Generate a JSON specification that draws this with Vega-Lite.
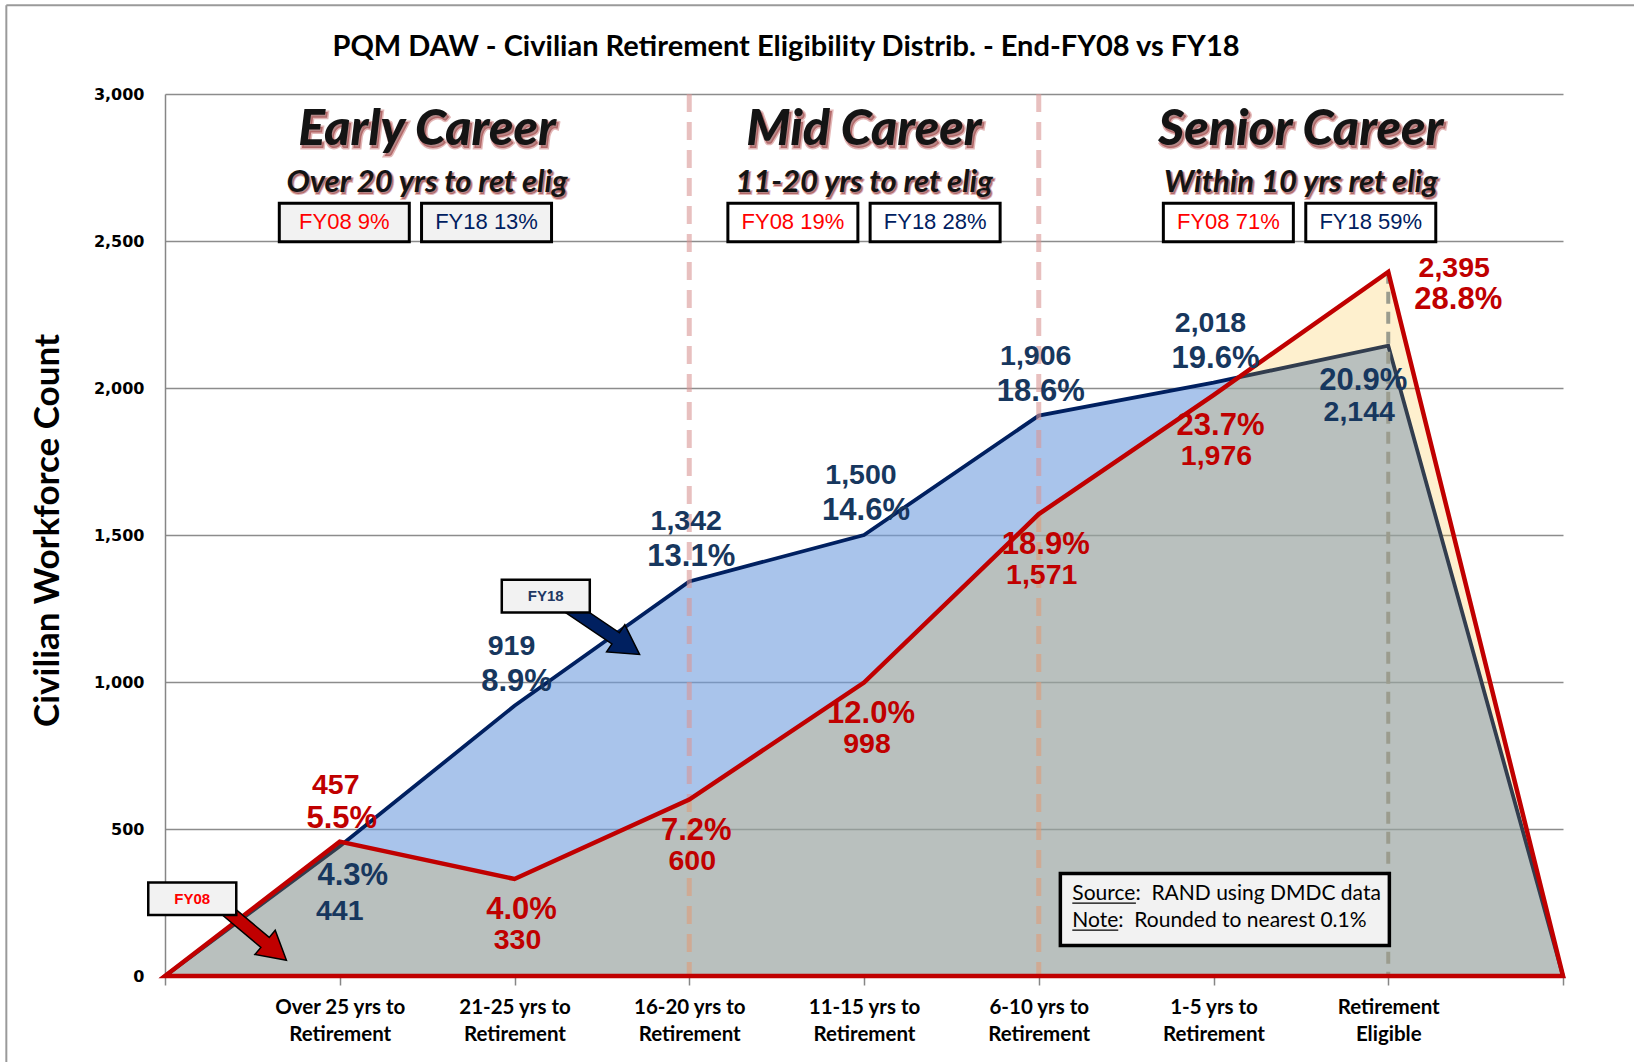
{
  "$schema": "https://vega.github.io/schema/vega-lite/v6.json",
  "width": 1398,
  "height": 882,
  "autosize": {"type": "none"},
  "padding": {"left": 165, "top": 94, "right": 71, "bottom": 86},
  "background": "white",
  "config": {"view": {"stroke": null}, "font": "Lato"},
  "title": {
    "text": "PQM DAW - Civilian Retirement Eligibility Distrib. - End-FY08 vs FY18",
    "font": "Lato", "fontSize": 29, "fontWeight": "bold", "color": "black",
    "anchor": "middle", "dx": -78, "offset": 0, "dy": 58
  },
  "datasets": {
    "series": [
      {"pos": 0, "category": "", "FY08": 0, "FY18": 0},
      {"pos": 1, "category": "Over 25 yrs to Retirement", "FY08": 457, "FY18": 441, "p08": 0.055, "p18": 0.043},
      {"pos": 2, "category": "21-25 yrs to Retirement", "FY08": 330, "FY18": 919, "p08": 0.040, "p18": 0.089},
      {"pos": 3, "category": "16-20 yrs to Retirement", "FY08": 600, "FY18": 1342, "p08": 0.072, "p18": 0.131},
      {"pos": 4, "category": "11-15 yrs to Retirement", "FY08": 998, "FY18": 1500, "p08": 0.120, "p18": 0.146},
      {"pos": 5, "category": "6-10 yrs to Retirement", "FY08": 1571, "FY18": 1906, "p08": 0.189, "p18": 0.186},
      {"pos": 6, "category": "1-5 yrs to Retirement", "FY08": 1976, "FY18": 2018, "p08": 0.237, "p18": 0.196},
      {"pos": 7, "category": "Retirement Eligible", "FY08": 2395, "FY18": 2144, "p08": 0.288, "p18": 0.209},
      {"pos": 8, "category": "", "FY08": 0, "FY18": 0}
    ],
    "eras": [{"pos": 3}, {"pos": 5}],
    "headings": [
      {"pos": 1.5, "head": "Early Career", "sub": "Over 20 yrs to ret elig"},
      {"pos": 4.0, "head": "Mid Career", "sub": "11-20 yrs to ret elig"},
      {"pos": 6.5, "head": "Senior Career", "sub": "Within 10 yrs ret elig"}
    ],
    "shares": [
      {"era": "Early", "series": "FY08", "label": "FY08 9%", "pos": 1.026},
      {"era": "Early", "series": "FY18", "label": "FY18 13%", "pos": 1.840},
      {"era": "Mid", "series": "FY08", "label": "FY08 19%", "pos": 3.593},
      {"era": "Mid", "series": "FY18", "label": "FY18 28%", "pos": 4.407},
      {"era": "Senior", "series": "FY08", "label": "FY08 71%", "pos": 6.085},
      {"era": "Senior", "series": "FY18", "label": "FY18 59%", "pos": 6.900}
    ],
    "callouts": [
      {"series": "FY18", "pos": 2.179, "y": 1292},
      {"series": "FY08", "pos": 0.156, "y": 263}
    ]
  },
  "layer": [
    {
      "data": {"values": [{}]},
      "mark": {"type": "rule", "stroke": "#9a9a9a", "strokeWidth": 2},
      "encoding": {"x": {"datum": -0.908, "type": "quantitative"}, "x2": {"datum": 8.5}, "y": {"datum": 3302, "type": "quantitative"}}
    },
    {
      "data": {"values": [{}]},
      "mark": {"type": "rule", "stroke": "#9a9a9a", "strokeWidth": 2},
      "encoding": {"x": {"datum": -0.908, "type": "quantitative"}, "y": {"datum": -300, "type": "quantitative"}, "y2": {"datum": 3302}}
    },
    {
      "data": {"name": "series"},
      "mark": {"type": "area", "fill": "#709CDE", "fillOpacity": 0.6, "stroke": "#002060", "strokeWidth": 3.8},
      "encoding": {
        "x": {
          "field": "pos", "type": "quantitative",
          "scale": {"domain": [0, 8], "nice": false, "zero": false},
          "axis": {
            "values": [0, 1, 2, 3, 4, 5, 6, 7, 8],
            "labelExpr": "[[''],['Over 25 yrs to','Retirement'],['21-25 yrs to','Retirement'],['16-20 yrs to','Retirement'],['11-15 yrs to','Retirement'],['6-10 yrs to','Retirement'],['1-5 yrs to','Retirement'],['Retirement','Eligible'],['']][datum.value]",
            "labelFont": "Lato", "labelFontWeight": "bold", "labelFontSize": 20.5, "labelColor": "black",
            "labelLineHeight": 27, "labelBaseline": "top", "labelPadding": 12, "labelOverlap": false, "labelBound": false, "labelFlush": false,
            "tickSize": 9, "tickColor": "#868686", "tickWidth": 1.5, "domainColor": "#868686", "domainWidth": 1.5,
            "grid": false, "title": null
          }
        },
        "y": {
          "field": "FY18", "type": "quantitative",
          "scale": {"domain": [0, 3000], "nice": false},
          "axis": {
            "values": [0, 500, 1000, 1500, 2000, 2500, 3000],
            "labelExpr": "format(datum.value, ',')",
            "labelFont": "DejaVu Sans", "labelFontWeight": "bold", "labelFontSize": 16, "labelColor": "black", "labelPadding": 21,
            "ticks": false, "domainColor": "#868686", "domainWidth": 1.5,
            "grid": true, "gridColor": "#8c8c8c", "gridWidth": 1.5,
            "title": "Civilian Workforce Count", "titleFont": "Lato", "titleFontSize": 35, "titleFontWeight": "bold", "titleColor": "black",
            "titleX": -118, "titleY": 436, "titleAngle": -90, "titleAlign": "center", "titleBaseline": "middle"
          }
        }
      }
    },
    {
      "data": {"name": "eras"},
      "mark": {"type": "rule", "stroke": "#D99694", "strokeOpacity": 0.6, "strokeWidth": 5, "strokeDash": [18, 10]},
      "encoding": {"x": {"field": "pos", "type": "quantitative"}}
    },
    {
      "data": {"name": "series"},
      "transform": [{"filter": "datum.pos == 7"}],
      "mark": {"type": "rule", "stroke": "#8497B0", "strokeWidth": 4, "strokeDash": [12, 8]},
      "encoding": {"x": {"field": "pos", "type": "quantitative"}, "y": {"field": "FY08", "type": "quantitative"}, "y2": {"datum": 0}}
    },
    {
      "data": {"name": "series"},
      "mark": {"type": "area", "fill": "#FAB40A", "fillOpacity": 0.2, "stroke": "#C00000", "strokeWidth": 4.5},
      "encoding": {"x": {"field": "pos", "type": "quantitative"}, "y": {"field": "FY08", "type": "quantitative"}}
    },
    {
      "data": {"name": "series"},
      "transform": [{"filter": "datum.pos >= 2 && datum.pos <= 6"}],
      "mark": {"type": "text", "font": "Liberation Sans", "fontWeight": "bold", "fontSize": 28.5, "fill": "#17375E", "dx": -3, "dy": -60, "baseline": "middle"},
      "encoding": {"x": {"field": "pos", "type": "quantitative"}, "y": {"field": "FY18", "type": "quantitative"}, "text": {"field": "FY18", "type": "quantitative", "format": ","}}
    },
    {
      "data": {"name": "series"},
      "transform": [{"filter": "datum.pos >= 2 && datum.pos <= 6"}],
      "mark": {"type": "text", "font": "Liberation Sans", "fontWeight": "bold", "fontSize": 31, "fill": "#17375E", "dx": 2, "dy": -24, "baseline": "middle"},
      "encoding": {"x": {"field": "pos", "type": "quantitative"}, "y": {"field": "FY18", "type": "quantitative"}, "text": {"field": "p18", "type": "quantitative", "format": ".1%"}}
    },
    {
      "data": {"name": "series"},
      "transform": [{"filter": "datum.pos == 1"}],
      "mark": {"type": "text", "font": "Liberation Sans", "fontWeight": "bold", "fontSize": 31, "fill": "#17375E", "dx": 13, "dy": 30, "baseline": "middle"},
      "encoding": {"x": {"field": "pos", "type": "quantitative"}, "y": {"field": "FY18", "type": "quantitative"}, "text": {"field": "p18", "type": "quantitative", "format": ".1%"}}
    },
    {
      "data": {"name": "series"},
      "transform": [{"filter": "datum.pos == 1"}],
      "mark": {"type": "text", "font": "Liberation Sans", "fontWeight": "bold", "fontSize": 28.5, "fill": "#17375E", "dx": 0, "dy": 65, "baseline": "middle"},
      "encoding": {"x": {"field": "pos", "type": "quantitative"}, "y": {"field": "FY18", "type": "quantitative"}, "text": {"field": "FY18", "type": "quantitative", "format": ","}}
    },
    {
      "data": {"name": "series"},
      "transform": [{"filter": "datum.pos == 7"}],
      "mark": {"type": "text", "font": "Liberation Sans", "fontWeight": "bold", "fontSize": 31, "fill": "#17375E", "dx": -25, "dy": 35, "baseline": "middle"},
      "encoding": {"x": {"field": "pos", "type": "quantitative"}, "y": {"field": "FY18", "type": "quantitative"}, "text": {"field": "p18", "type": "quantitative", "format": ".1%"}}
    },
    {
      "data": {"name": "series"},
      "transform": [{"filter": "datum.pos == 7"}],
      "mark": {"type": "text", "font": "Liberation Sans", "fontWeight": "bold", "fontSize": 28.5, "fill": "#17375E", "dx": -29, "dy": 66, "baseline": "middle"},
      "encoding": {"x": {"field": "pos", "type": "quantitative"}, "y": {"field": "FY18", "type": "quantitative"}, "text": {"field": "FY18", "type": "quantitative", "format": ","}}
    },
    {
      "data": {"name": "series"},
      "transform": [{"filter": "datum.pos >= 2 && datum.pos <= 6"}],
      "mark": {"type": "text", "font": "Liberation Sans", "fontWeight": "bold", "fontSize": 31, "fill": "#C00000", "dx": 7, "dy": 31, "baseline": "middle"},
      "encoding": {"x": {"field": "pos", "type": "quantitative"}, "y": {"field": "FY08", "type": "quantitative"}, "text": {"field": "p08", "type": "quantitative", "format": ".1%"}}
    },
    {
      "data": {"name": "series"},
      "transform": [{"filter": "datum.pos >= 2 && datum.pos <= 6"}],
      "mark": {"type": "text", "font": "Liberation Sans", "fontWeight": "bold", "fontSize": 28.5, "fill": "#C00000", "dx": 3, "dy": 61, "baseline": "middle"},
      "encoding": {"x": {"field": "pos", "type": "quantitative"}, "y": {"field": "FY08", "type": "quantitative"}, "text": {"field": "FY08", "type": "quantitative", "format": ","}}
    },
    {
      "data": {"name": "series"},
      "transform": [{"filter": "datum.pos == 1"}],
      "mark": {"type": "text", "font": "Liberation Sans", "fontWeight": "bold", "fontSize": 28.5, "fill": "#C00000", "dx": -4, "dy": -57, "baseline": "middle"},
      "encoding": {"x": {"field": "pos", "type": "quantitative"}, "y": {"field": "FY08", "type": "quantitative"}, "text": {"field": "FY08", "type": "quantitative", "format": ","}}
    },
    {
      "data": {"name": "series"},
      "transform": [{"filter": "datum.pos == 1"}],
      "mark": {"type": "text", "font": "Liberation Sans", "fontWeight": "bold", "fontSize": 31, "fill": "#C00000", "dx": 2, "dy": -23, "baseline": "middle"},
      "encoding": {"x": {"field": "pos", "type": "quantitative"}, "y": {"field": "FY08", "type": "quantitative"}, "text": {"field": "p08", "type": "quantitative", "format": ".1%"}}
    },
    {
      "data": {"name": "series"},
      "transform": [{"filter": "datum.pos == 7"}],
      "mark": {"type": "text", "font": "Liberation Sans", "fontWeight": "bold", "fontSize": 28.5, "fill": "#C00000", "dx": 66, "dy": -4, "baseline": "middle"},
      "encoding": {"x": {"field": "pos", "type": "quantitative"}, "y": {"field": "FY08", "type": "quantitative"}, "text": {"field": "FY08", "type": "quantitative", "format": ","}}
    },
    {
      "data": {"name": "series"},
      "transform": [{"filter": "datum.pos == 7"}],
      "mark": {"type": "text", "font": "Liberation Sans", "fontWeight": "bold", "fontSize": 31, "fill": "#C00000", "dx": 70, "dy": 28, "baseline": "middle"},
      "encoding": {"x": {"field": "pos", "type": "quantitative"}, "y": {"field": "FY08", "type": "quantitative"}, "text": {"field": "p08", "type": "quantitative", "format": ".1%"}}
    },
    {
      "data": {"name": "headings"},
      "mark": {"type": "text", "font": "Lato", "fontStyle": "italic", "fontWeight": 900, "fontSize": 50, "fill": "#6a1010", "fillOpacity": 0.5, "stroke": "#b03030", "strokeWidth": 3, "strokeOpacity": 0.35, "dx": 2, "dy": 3, "baseline": "middle"},
      "encoding": {"x": {"field": "pos", "type": "quantitative"}, "y": {"datum": 2876, "type": "quantitative"}, "text": {"field": "head"}}
    },
    {
      "data": {"name": "headings"},
      "mark": {"type": "text", "font": "Lato", "fontStyle": "italic", "fontWeight": 900, "fontSize": 50, "fill": "#141414", "baseline": "middle"},
      "encoding": {"x": {"field": "pos", "type": "quantitative"}, "y": {"datum": 2876, "type": "quantitative"}, "text": {"field": "head"}}
    },
    {
      "data": {"name": "headings"},
      "mark": {"type": "text", "font": "Lato", "fontStyle": "italic", "fontWeight": "bold", "fontSize": 31, "fill": "#6a1010", "fillOpacity": 0.5, "stroke": "#b03030", "strokeWidth": 2, "strokeOpacity": 0.35, "dx": 1.5, "dy": 2.5, "baseline": "middle"},
      "encoding": {"x": {"field": "pos", "type": "quantitative"}, "y": {"datum": 2698, "type": "quantitative"}, "text": {"field": "sub"}}
    },
    {
      "data": {"name": "headings"},
      "mark": {"type": "text", "font": "Lato", "fontStyle": "italic", "fontWeight": "bold", "fontSize": 31, "fill": "#141414", "baseline": "middle"},
      "encoding": {"x": {"field": "pos", "type": "quantitative"}, "y": {"datum": 2698, "type": "quantitative"}, "text": {"field": "sub"}}
    },
    {
      "data": {"name": "shares"},
      "mark": {"type": "point", "shape": "M-1,-0.295H1V0.295H-1Z", "size": 16900, "filled": true, "stroke": "black", "strokeWidth": 3, "opacity": 1},
      "encoding": {
        "x": {"field": "pos", "type": "quantitative"}, "y": {"datum": 2563, "type": "quantitative"},
        "fill": {"condition": {"test": "datum.era == 'Early'", "value": "#F2F2F2"}, "value": "white"}
      }
    },
    {
      "data": {"name": "shares"},
      "mark": {"type": "text", "font": "Liberation Sans Narrow, Liberation Sans", "fontSize": 22, "baseline": "middle"},
      "encoding": {
        "x": {"field": "pos", "type": "quantitative"}, "y": {"datum": 2563, "type": "quantitative"},
        "text": {"field": "label"},
        "color": {"condition": {"test": "datum.series == 'FY08'", "value": "#FF0000"}, "value": "#002060"}
      }
    },
    {
      "data": {"values": [{}]},
      "mark": {"type": "point", "shape": "M-1,-0.14L0.4,-0.14L0.4,-0.34L1,0L0.4,0.34L0.4,0.14L-1,0.14Z", "size": 9216, "angle": 34, "filled": true, "fill": "#002060", "stroke": "black", "strokeWidth": 1.5, "opacity": 1},
      "encoding": {"x": {"datum": 2.488, "type": "quantitative"}, "y": {"datum": 1185, "type": "quantitative"}}
    },
    {
      "data": {"values": [{}]},
      "mark": {"type": "point", "shape": "M-1,-0.14L0.4,-0.14L0.4,-0.34L1,0L0.4,0.34L0.4,0.14L-1,0.14Z", "size": 8649, "angle": 40, "filled": true, "fill": "#C00000", "stroke": "black", "strokeWidth": 1.5, "opacity": 1},
      "encoding": {"x": {"datum": 0.491, "type": "quantitative"}, "y": {"datum": 155, "type": "quantitative"}}
    },
    {
      "data": {"name": "callouts"},
      "mark": {"type": "point", "shape": "M-1,-0.37H1V0.37H-1Z", "size": 7744, "filled": true, "fill": "#F2F2F2", "stroke": "black", "strokeWidth": 2.5, "opacity": 1},
      "encoding": {"x": {"field": "pos", "type": "quantitative"}, "y": {"field": "y", "type": "quantitative"}}
    },
    {
      "data": {"name": "callouts"},
      "mark": {"type": "text", "font": "Liberation Sans", "fontWeight": "bold", "fontSize": 15, "baseline": "middle"},
      "encoding": {
        "x": {"field": "pos", "type": "quantitative"}, "y": {"field": "y", "type": "quantitative"},
        "text": {"field": "series"},
        "color": {"condition": {"test": "datum.series == 'FY08'", "value": "#FF0000"}, "value": "#1F3864"}
      }
    },
    {
      "data": {"values": [{}]},
      "mark": {"type": "point", "shape": "M-1,-0.219H1V0.219H-1Z", "size": 108241, "filled": true, "fill": "#F2F2F2", "stroke": "black", "strokeWidth": 3.5, "opacity": 1},
      "encoding": {"x": {"datum": 6.065, "type": "quantitative"}, "y": {"datum": 226, "type": "quantitative"}}
    },
    {
      "data": {"values": [{"note": "Source:\u00a0 RAND using DMDC data\nNote:\u00a0 Rounded to nearest 0.1%"}]},
      "mark": {"type": "text", "font": "Lato", "fontSize": 21, "fill": "black", "align": "left", "baseline": "middle", "lineBreak": "\n", "lineHeight": 27},
      "encoding": {"x": {"datum": 5.192, "type": "quantitative"}, "y": {"datum": 280, "type": "quantitative"}, "text": {"field": "note"}}
    },
    {
      "data": {"values": [{}]},
      "mark": {"type": "rule", "stroke": "black", "strokeWidth": 1.3},
      "encoding": {"x": {"datum": 5.192, "type": "quantitative"}, "x2": {"datum": 5.556}, "y": {"datum": 248, "type": "quantitative"}}
    },
    {
      "data": {"values": [{}]},
      "mark": {"type": "rule", "stroke": "black", "strokeWidth": 1.3},
      "encoding": {"x": {"datum": 5.192, "type": "quantitative"}, "x2": {"datum": 5.455}, "y": {"datum": 156, "type": "quantitative"}}
    }
  ]
}
